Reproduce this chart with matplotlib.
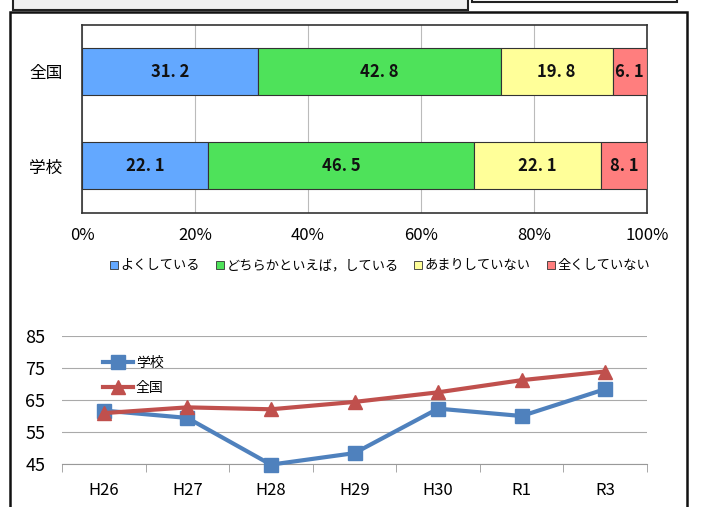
import matplotlib
matplotlib.use('Agg')
import matplotlib.pyplot as plt
from matplotlib.patches import Rectangle

plt.rcParams['font.family'] = ['Noto Sans CJK JP', 'DejaVu Sans']

# bar chart data
groups = ['全国', '学校']
answers = ['よくしている', 'どちらかといえば，している', 'あまりしていない', '全くしていない']
zenkoku = [31.2, 42.8, 19.8, 6.1]
gakkou = [22.1, 46.5, 22.1, 8.1]
bar_colors = ['#63a8ff', '#4ee25a', '#ffff99', '#ff7e7e']

# line chart data
years = ['H26', 'H27', 'H28', 'H29', 'H30', 'R1', 'R3']
line_gakkou = [61.7, 59.4, 44.8, 48.4, 62.3, 60.0, 68.4]
line_zenkoku = [60.9, 62.7, 62.1, 64.4, 67.4, 71.2, 73.9]

W, H = 703, 507
fig = plt.figure(figsize=(W / 100, H / 100), dpi=100)

def px_axes(x0, y0, x1, y1, **kw):
    return fig.add_axes([x0 / W, 1 - y1 / H, (x1 - x0) / W, (y1 - y0) / H], **kw)

# frames around the charts
fig.patches.append(Rectangle((13 / W, 1 - 10 / H), 455 / W, 20 / H, transform=fig.transFigure,
                             facecolor='#f0f0f0', edgecolor='#222222', lw=1.5))
fig.patches.append(Rectangle((472 / W, 1 - 2 / H), 205 / W, 10 / H, transform=fig.transFigure,
                             facecolor='white', edgecolor='#222222', lw=1.5))
fig.patches.append(Rectangle((10 / W, -0.02), 677 / W, 1 - 12 / H + 0.02, transform=fig.transFigure,
                             facecolor='none', edgecolor='#111111', lw=1.8))

# stacked bar chart (100% stacked, each row scaled to its total)
ax = px_axes(82, 25, 647, 213)
rows = [zenkoku, gakkou]
for yi, vals in enumerate(rows):
    total = sum(vals)
    left = 0
    for k, v in enumerate(vals):
        w = v / total * 100
        ax.barh(yi, w, left=left, height=0.5, color=bar_colors[k], edgecolor='#333333', lw=0.8, zorder=3)
        ax.text(left + w / 2, yi, f'{v:.1f}'.replace('.', '. '), ha='center', va='center',
                fontsize=12, fontweight='bold', color='#111111', zorder=4)
        left += w
ax.set_xlim(0, 100)
ax.set_ylim(1.5, -0.5)
ax.set_yticks([0, 1])
ax.set_yticklabels(groups, fontsize=12)
ax.set_xticks([0, 20, 40, 60, 80, 100])
ax.set_xticklabels(['0%', '20%', '40%', '60%', '80%', '100%'], fontsize=12)
ax.tick_params(length=0, pad=10)
ax.tick_params(axis='y', pad=14)
ax.grid(axis='x', color='#bbbbbb', lw=0.8, zorder=0)
for s in ax.spines.values():
    s.set_color('#333333')
    s.set_linewidth(1.2)

handles = [Rectangle((0, 0), 1, 1, facecolor=c, edgecolor='#333333', lw=0.6) for c in bar_colors]
fig.legend(handles, answers, loc='center', bbox_to_anchor=(380 / W, 1 - 266 / H), ncol=4,
           frameon=False, fontsize=9.5, handlelength=0.6, handleheight=0.6, handletextpad=0.2,
           columnspacing=1.2)

# line chart
ax2 = px_axes(62, 336, 647, 464)
x = range(len(years))
ax2.plot(x, line_gakkou, color='#4f81bd', lw=3, marker='s', ms=10, label='学校', zorder=3, clip_on=False)
ax2.plot(x, line_zenkoku, color='#c0504d', lw=3, marker='^', ms=10, label='全国', zorder=3, clip_on=False)
ax2.set_xlim(-0.5, len(years) - 0.5)
ax2.set_ylim(45, 85)
ax2.set_yticks([45, 55, 65, 75, 85])
ax2.set_xticks(list(x))
ax2.set_xticklabels(years, fontsize=12)
ax2.set_xticks([i - 0.5 for i in range(len(years) + 1)], minor=True)
ax2.tick_params(axis='x', which='major', length=0, pad=13)
ax2.tick_params(axis='x', which='minor', length=6, color='#999999')
ax2.tick_params(axis='y', length=0, labelsize=13, pad=12)
ax2.grid(axis='y', color='#aaaaaa', lw=0.8, zorder=0)
for s in ['top', 'right', 'left']:
    ax2.spines[s].set_visible(False)
ax2.spines['bottom'].set_color('#999999')
ax2.legend(loc='upper left', bbox_to_anchor=(0.06, 0.89), frameon=False, fontsize=10,
           handlelength=2.2, handletextpad=0.2, labelspacing=0.8, borderaxespad=0)

fig.savefig('out.png', dpi=100)
